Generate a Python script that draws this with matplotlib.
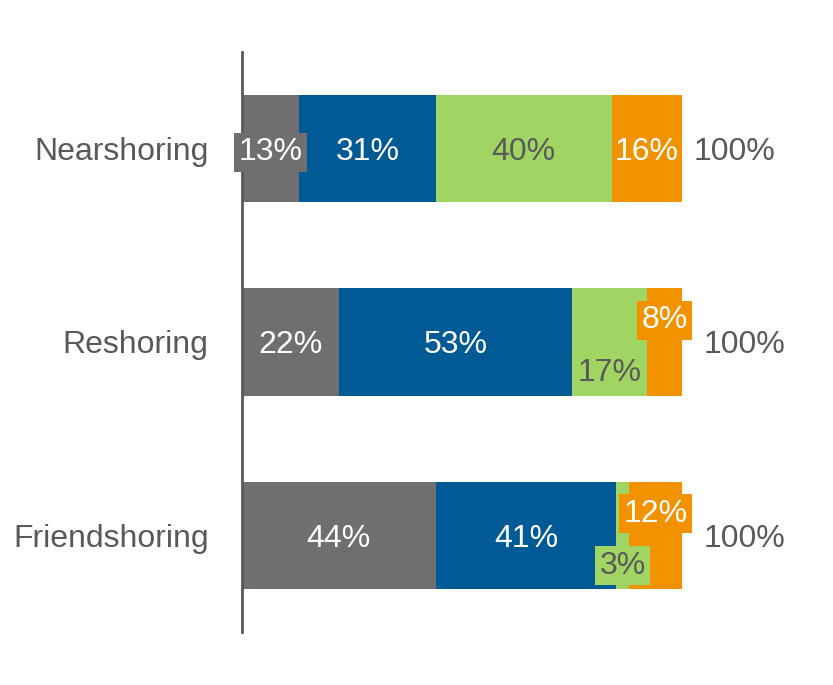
import numpy as np
import matplotlib.pyplot as plt

plt.rcParams['font.family'] = ['Liberation Sans', 'DejaVu Sans']

categories = ["Nearshoring", "Reshoring", "Friendshoring"]
gray_vals = [13, 22, 44]
blue_vals = [31, 53, 41]
green_vals = [40, 17, 3]
orange_vals = [16, 8, 12]

series = [gray_vals, blue_vals, green_vals, orange_vals]
colors = ["#716E70", "#005A96", "#A1D563", "#F39200"]
text_colors = ["white", "white", "#595959", "white"]

# small segments get their label pushed up or down, with a box behind it
nudge = {(1, 3): -0.13, (1, 2): 0.14, (2, 3): -0.13, (2, 2): 0.14}
boxed = {(0, 0), (1, 3), (2, 3), (2, 2)}

fig = plt.figure(figsize=(8.33, 6.85), dpi=100)
ax = fig.add_axes([0.2905, 0.0774, 0.7095, 0.8467])

y = np.arange(len(categories))
left = np.zeros(len(categories))
row_texts = [[] for _ in categories]
for s, (vals, c) in enumerate(zip(series, colors)):
    vals = np.array(vals, dtype=float)
    ax.barh(y, vals, left=left, height=0.555, color=c, zorder=2)
    for i, v in enumerate(vals):
        kw = {}
        if (i, s) in boxed:
            kw["bbox"] = dict(boxstyle="square,pad=0.14", fc=c, ec="none")
        t = ax.text(left[i] + v / 2, y[i] + nudge.get((i, s), 0), f"{v:.0f}%",
                    ha="center", va="center_baseline", fontsize=23,
                    color=text_colors[s], zorder=3, **kw)
        if (i, s) in boxed:
            row_texts[i].append(t)
    left += vals

ax.set_xlim(0, 134.3)
ax.set_ylim(2.5, -0.5)

# totals sit just right of the bar end or of any label box sticking out
fig.canvas.draw()
renderer = fig.canvas.get_renderer()
to_data = ax.transData.inverted()
for i, total in enumerate(left):
    x_end = ax.transData.transform((total, 0))[0]
    for t in row_texts[i]:
        x_end = max(x_end, t.get_bbox_patch().get_window_extent(renderer).x1)
    x0 = to_data.transform((x_end, 0))[0]
    ax.annotate(f"{total:.0f}%", (x0, y[i]), xytext=(8, 0),
                textcoords="offset points", ha="left", va="center_baseline",
                fontsize=23, color="#595959")

ax.set_yticks(y)
ax.set_yticklabels(categories, fontsize=23, color="#595959")
ax.tick_params(axis="y", length=0, pad=24)
ax.set_xticks([])
for side in ["top", "right", "bottom"]:
    ax.spines[side].set_visible(False)
ax.spines["left"].set_color("#595959")
ax.spines["left"].set_linewidth(2)

fig.savefig("out.png", dpi=100)
